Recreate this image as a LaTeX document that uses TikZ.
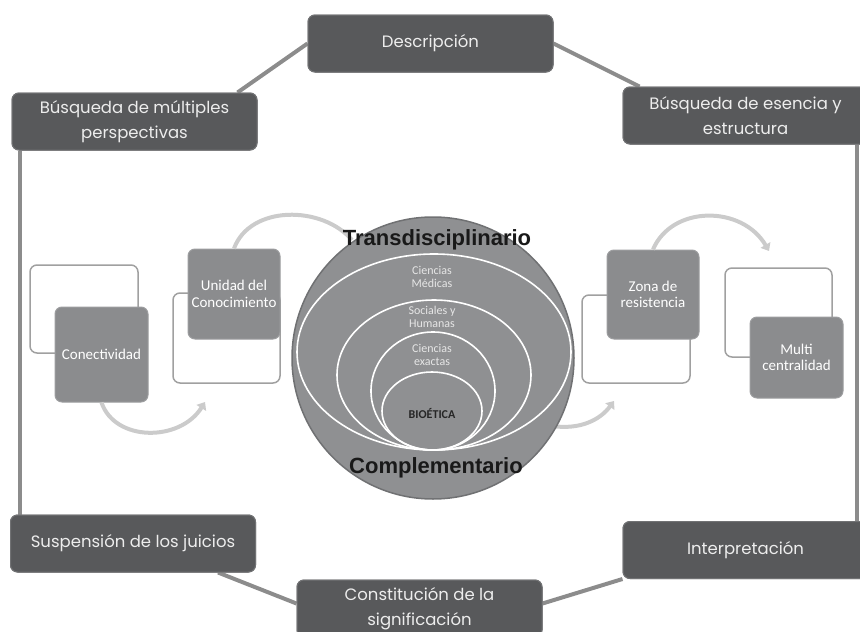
\documentclass[tikz,border=0pt]{standalone}
\usepackage{fontspec}
\usetikzlibrary{arrows.meta,calc}
\newfontfamily\boxfont{Poppins}
\newfontfamily\innerfont{Carlito}
\newfontfamily\bigfont{Liberation Sans}
\definecolor{boxdark}{HTML}{58595B}
\definecolor{linegray}{HTML}{8C8C8C}
\definecolor{midgray}{HTML}{8B8C8E}
\definecolor{circgray}{HTML}{8F9092}
\definecolor{circedge}{HTML}{707173}
\definecolor{arcgray}{HTML}{CBCBCB}
\definecolor{boxtext}{HTML}{EDEDED}
\definecolor{outlinegray}{HTML}{A0A0A0}
\definecolor{ellipsetext}{HTML}{E6E6E6}
\begin{document}
\begin{tikzpicture}[x=1pt,y=-1pt,
  outerbox/.style={fill=boxdark, draw=boxdark!85!white, line width=1pt,
    rounded corners=7pt, minimum width=245pt, minimum height=57pt,
    inner sep=0pt, align=center, text=boxtext,
    font=\boxfont\fontsize{16.5}{25.5}\selectfont},
  connector/.style={draw=linegray, line width=4pt},
  whitebox/.style={fill=white, draw=outlinegray, line width=1.5pt,
    rounded corners=7pt, inner sep=0pt},
  graybox/.style={fill=midgray, draw=midgray!85!white, line width=1pt,
    rounded corners=7pt, inner sep=0pt, align=center, text=white,
    font=\innerfont\fontsize{15}{16.5}\selectfont},
  arcline/.style={draw=arcgray, line width=4pt},
  arctip/.style={-{Triangle[length=7pt,width=11pt]}},
  ringline/.style={draw=white, line width=1.6pt},
  ringtext/.style={text=ellipsetext, align=center,
    font=\innerfont\fontsize{12}{13.5}\selectfont},
  bigtext/.style={text=black!90, font=\bigfont\bfseries\fontsize{22}{24}\selectfont}
]
\useasboundingbox (0,0) rectangle (860,632);
\clip (0,0) rectangle (860,632);

% outer boxes (positions)
\node[outerbox] (desc) at (430.5,43.5) {Descripción};
\node[outerbox] (mult) at (134.5,121.5) {Búsqueda de múltiples\\perspectivas};
\node[outerbox] (esen) at (745.5,115.5) {Búsqueda de esencia y\\estructura};
\node[outerbox] (susp) at (133,543.5) {Suspensión de los juicios};
\node[outerbox] (cons) at (419.5,608.5) {Constitución de la\\significación};
\node[outerbox] (interp) at (745.5,550) {Interpretación};

% inner left group
\node[whitebox, minimum width=108pt, minimum height=88pt] (wb1) at (84,309) {};
\node[graybox, minimum width=93pt, minimum height=95pt] (conn) at (101.5,354.5) {Conectividad};
\node[whitebox, minimum width=107pt, minimum height=90pt] (wb2) at (226.5,338) {};
\node[graybox, minimum width=92pt, minimum height=90pt] (unid) at (234,294) {Unidad del\\Conocimiento};

% inner right group
\node[whitebox, minimum width=108pt, minimum height=88pt] (wb3) at (636,339) {};
\node[graybox, minimum width=92pt, minimum height=89pt] (zona) at (653,294.5) {Zona de\\resistencia};
\node[whitebox, minimum width=107pt, minimum height=89pt] (wb4) at (778.5,312.5) {};
\node[graybox, minimum width=93pt, minimum height=81pt] (multi) at (796.5,357.5) {Multi\\centralidad};

% arcs
\coordinate (tlend) at (352,240);
\coordinate (bltip) at (205,402);
\coordinate (brstart) at (552,426);
\coordinate (brtip) at (614,401);
\coordinate (trtip) at (769,251);
\draw[arcline] (unid.north) .. controls (250,205) and (322,205) .. (tlend);
\draw[arcline, arctip] (conn.south) .. controls (115,442) and (180,442) .. (bltip);
\draw[arcline, arctip] (brstart) .. controls (580,430) and (600,420) .. (brtip);
\draw[arcline, arctip] (zona.north) .. controls (672,205) and (742,205) .. (trtip);

% central circle
\node[circle, fill=circgray, draw=circedge, line width=1.5pt, minimum size=282pt, inner sep=0pt] (circ) at (433,358) {};
\draw[ringline] (434,352) ellipse [x radius=137, y radius=98];
\draw[ringline] (434,375) ellipse [x radius=97, y radius=75];
\draw[ringline] (433,391) ellipse [x radius=62, y radius=59];
\draw[ringline] (432,411) ellipse [x radius=50, y radius=39];
\node[ringtext] (med) at (432,277) {Ciencias\\Médicas};
\node[ringtext] (soc) at (432,317) {Sociales y\\Humanas};
\node[ringtext] (exa) at (432,355) {Ciencias\\exactas};
\node[text=black!85, font=\innerfont\bfseries\fontsize{12}{13}\selectfont] (bio) at (432,413) {BIOÉTICA};
\node[bigtext] (trans) at (437,240) {Transdisciplinario};
\node[bigtext] (comp) at (436,468) {Complementario};

% connectors between outer boxes
\draw[connector] (desc.west) -- ([xshift=-20pt]mult.north east);
\draw[connector] (desc.east) -- ([xshift=17pt]esen.north west);
\draw[connector] ([xshift=8pt]mult.south west) -- ([xshift=8pt]mult.south west |- susp.north);
\draw[connector] ([xshift=-12pt]esen.south east |- esen.south) -- ([xshift=-12pt]esen.south east |- interp.north);
\draw[connector] ([xshift=-38pt]susp.south east) -- ([yshift=5pt]cons.west);
\draw[connector] ([yshift=5pt]cons.east) -- (interp.south west);

% outer boxes redrawn on top of connectors
\node[outerbox] at (desc) {Descripción};
\node[outerbox] at (mult) {Búsqueda de múltiples\\perspectivas};
\node[outerbox] at (esen) {Búsqueda de esencia y\\estructura};
\node[outerbox] at (susp) {Suspensión de los juicios};
\node[outerbox] at (cons) {Constitución de la\\significación};
\node[outerbox] at (interp) {Interpretación};
\end{tikzpicture}
\end{document}
